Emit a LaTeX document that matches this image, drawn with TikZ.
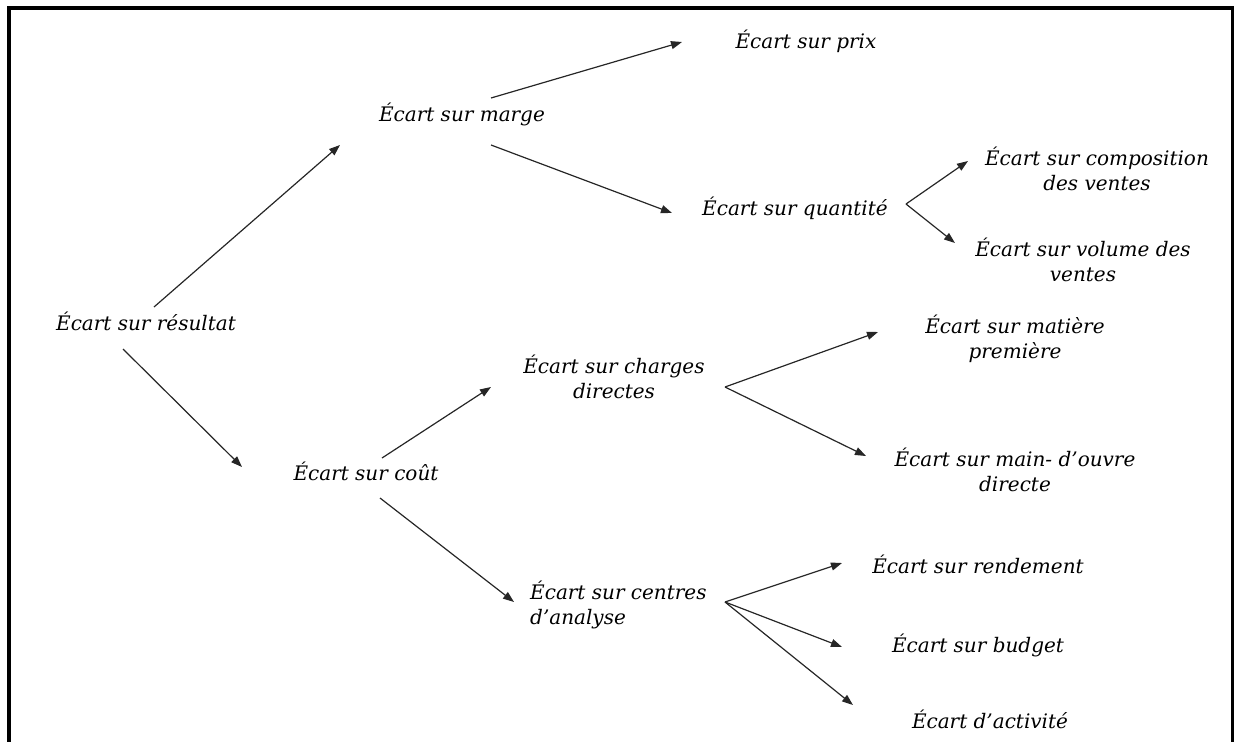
\documentclass[tikz,border=0pt]{standalone}
\usepackage{fontspec}
\setmainfont{DejaVu Serif}
\usetikzlibrary{arrows.meta}
\begin{document}
\begin{tikzpicture}[x=1pt,y=-1pt,
  lbl/.style={font=\itshape\fontsize{20}{25}\selectfont, inner sep=0pt, anchor=base, align=center, text=black},
  arr/.style={-{Triangle[length=11pt,width=8pt]}, line width=1.2pt, draw=black!85}]
\useasboundingbox (0,0) rectangle (1235,742);
\draw[line width=3.5pt] (9,742) -- (9,8) -- (1232.5,8) -- (1232.5,742);
% nodes (base = baseline of last line)
\node[lbl] (res) at (146,330) {Écart sur résultat};
\node[lbl] (marge) at (462,121) {Écart sur marge};
\node[lbl] (prix) at (806,48) {Écart sur prix};
\node[lbl] (quant) at (795,215) {Écart sur quantité};
\node[lbl] (comp) at (1097,190) {Écart sur composition\\des ventes};
\node[lbl] (vol) at (1083,281) {Écart sur volume des\\ventes};
\node[lbl] (cout) at (366,480) {Écart sur coût};
\node[lbl] (charges) at (614,398) {Écart sur charges\\directes};
\node[lbl, anchor=base west, align=left] (centres) at (530,624) {Écart sur centres\\d’analyse};
\node[lbl] (matiere) at (1015,358) {Écart sur matière\\première};
\node[lbl] (main) at (1015,491) {Écart sur main- d’ouvre\\directe};
\node[lbl] (rend) at (978,573) {Écart sur rendement};
\node[lbl] (budget) at (978,652) {Écart sur budget};
\node[lbl] (activ) at (990,728) {Écart d’activité};
% connectors
\draw[arr] ([shift={(8,-23)}]res.base) -- ([shift={(-122,24)}]marge.base);
\draw[arr] ([shift={(-23,19)}]res.base) -- ([shift={(-124,-13)}]cout.base);
\draw[arr] ([shift={(29,-23)}]marge.base) -- ([shift={(-124,-6)}]prix.base);
\draw[arr] ([shift={(29,24)}]marge.base) -- ([shift={(-123,-2)}]quant.base);
\draw[arr] ([shift={(111,-11)}]quant.base) -- ([shift={(-129,-29)}]comp.base);
\draw[arr] ([shift={(111,-11)}]quant.base) -- ([shift={(-128,-38)}]vol.base);
\draw[arr] ([shift={(16,-22)}]cout.base) -- ([shift={(-123,-11)}]charges.base);
\draw[arr] ([shift={(14,18)}]cout.base) -- ([shift={(-16,-22)}]centres.base west);
\draw[arr] ([shift={(111,-11)}]charges.base) -- ([shift={(-137,-26)}]matiere.base);
\draw[arr] ([shift={(111,-11)}]charges.base) -- ([shift={(-149,-35)}]main.base);
\draw[arr] ([shift={(195,-22)}]centres.base west) -- ([shift={(-136,-10)}]rend.base);
\draw[arr] ([shift={(195,-22)}]centres.base west) -- ([shift={(-136,-5)}]budget.base);
\draw[arr] ([shift={(195,-22)}]centres.base west) -- ([shift={(-137,-23)}]activ.base);
\end{tikzpicture}
\end{document}
